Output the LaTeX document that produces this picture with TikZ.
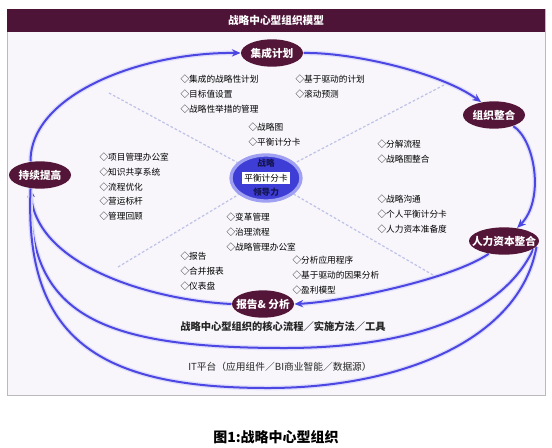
\documentclass[tikz,border=0pt]{standalone}
\usepackage{fontspec}
\setmainfont{Noto Sans CJK SC}
\usetikzlibrary{shapes.geometric,arrows.meta,backgrounds}

\definecolor{barpurple}{RGB}{78,20,56}
\definecolor{nodepurple}{RGB}{84,22,56}
\definecolor{flowblue}{RGB}{76,70,226}
\definecolor{coreblue}{RGB}{62,62,214}
\definecolor{coreglow}{RGB}{160,160,242}
\definecolor{corenavy}{RGB}{20,20,80}
\definecolor{dashblue}{RGB}{190,194,230}
\definecolor{framebg}{RGB}{248,246,251}
\definecolor{framegray}{RGB}{185,185,190}

\tikzset{every picture/.style={line width=0.75pt}}

\begin{document}
\begin{tikzpicture}[x=0.75pt,y=0.75pt,yscale=-1,xscale=1,
    stage/.style={ellipse, fill=nodepurple, text=white, inner xsep=-6pt, inner ysep=0pt,
        minimum width=46.5pt, minimum height=20.5pt, font=\fontsize{8}{9}\selectfont\bfseries},
    core/.style={ellipse, fill=coreblue, draw=coreglow, line width=2.5pt, inner sep=-3pt,
        minimum width=52.5pt, minimum height=34.5pt, align=center, text=corenavy,
        font=\fontsize{6.5}{11}\selectfont},
    flow/.style={draw=flowblue, line width=1.5pt, preaction={draw=flowblue!18, line width=3.5pt},
        -{Stealth[length=6.5pt,width=5.5pt]}},
    ring/.style={draw=flowblue, line width=1.5pt, preaction={draw=flowblue!18, line width=3.5pt}},
    axis/.style={draw=dashblue, line width=0.9pt, dash pattern=on 2pt off 1.5pt},
    items/.style={anchor=north west, inner sep=0.75pt, align=left, font=\fontsize{6.5}{11.06}\selectfont}]

    \useasboundingbox (0,0) rectangle (552,447);

    %Stages round the ring
    \node[stage] (plan) at (272,53) {集成计划};
    \node[stage] (align) at (494,115) {组织整合};
    \node[stage, minimum width=52.5pt] (hc) at (504,241) {人力资本整合};
    \node[stage] (report) at (263,304) {报告\&\ 分析};
    \node[stage] (improve) at (40,175) {持续提高};

    %Centre
    \node[core] (core) at (266,178) {{\color{corenavy}\bfseries 战略}\\\setlength{\fboxsep}{1.5pt}\colorbox{white}{\color{black}平衡计分卡}\\{\color{corenavy}\bfseries 领导力}};

    \begin{scope}[on background layer]
    %Frame and title bar
    \fill[white] (0,0) rectangle (552,447);
    \draw[framegray, fill=framebg] (7,9) rectangle (545,395);
    \fill[barpurple] (7,9) rectangle (545,32);

    %Dashed axes
    \coordinate (ul) at (109,93);
    \coordinate (ur) at (444,85);
    \coordinate (ll) at (118,267);
    \coordinate (lr) at (433,275);
    \draw[axis] (ul) -- (core);
    \draw[axis] (ur) -- (core);
    \draw[axis] (ll) -- (core);
    \draw[axis] (lr) -- (core);

    %Main ring
    \draw[flow] (improve.125) .. controls (30,95) and (140,52) .. (plan.west);
    \draw[flow] (plan.east) .. controls (350,52) and (440,72) .. (align.135);
    \draw[flow] (align.-30) .. controls (535,140) and (545,200) .. (hc.45);
    \draw[flow] (hc.-140) .. controls (450,280) and (340,302) .. (report.east);
    \draw[flow] (report.west) .. controls (150,300) and (35,265) .. (improve.-125);

    %Lower rings
    \coordinate (mid2) at (285,348);
    \coordinate (mid3) at (268,388);
    \draw[ring] (improve.-125) .. controls (26,315) and (100,348) .. (mid2) .. controls (400,348) and (500,320) .. (hc.-15);
    \draw[ring] (improve.-125) .. controls (24,340) and (100,388) .. (mid3) .. controls (400,388) and (520,340) .. (hc.-10);
    \end{scope}

    \node[text=white, font=\fontsize{8}{9}\selectfont\bfseries] (title) at (276,20.5) {战略中心型组织模型};

    % Text Node
    \node[items] (planitems) at (179,73.5) {◇集成的战略性计划\\◇目标值设置\\◇战略性举措的管理};
    % Text Node
    \node[items] (drivers) at (294,73.5) {◇基于驱动的计划\\◇滚动预测};
    % Text Node
    \node[items] (maps) at (247,121.5) {◇战略图\\◇平衡计分卡};
    % Text Node
    \node[items] (alignitems) at (376,138.5) {◇分解流程\\◇战略图整合};
    % Text Node
    \node[items] (improveitems) at (98,151.5) {◇项目管理办公室\\◇知识共享系统\\◇流程优化\\◇营运标杆\\◇管理回顾};
    % Text Node
    \node[items] (hcitems) at (376,193.5) {◇战略沟通\\◇个人平衡计分卡\\◇人力资本准备度};
    % Text Node
    \node[items] (changeitems) at (225,211.5) {◇变革管理\\◇治理流程\\◇战略管理办公室};
    % Text Node
    \node[items] (reportitems) at (179,250.5) {◇报告\\◇合并报表\\◇仪表盘};
    % Text Node
    \node[items] (analysisitems) at (291,254.5) {◇分析应用程序\\◇基于驱动的因果分析\\◇盈利模型};

    % Text Node
    \node[font=\fontsize{7.7}{9}\selectfont\bfseries, text=black!85] (process) at (283,327) {战略中心型组织的核心流程／实施方法／工具};
    % Text Node
    \node[font=\fontsize{7.3}{9}\selectfont, text=black!85] (itlayer) at (280,367) {IT平台（应用组件／BI商业智能／数据源）};
    % Text Node
    \node[font=\fontsize{10.5}{12}\selectfont\bfseries] (caption) at (276,437) {图1:战略中心型组织};
\end{tikzpicture}
\end{document}
